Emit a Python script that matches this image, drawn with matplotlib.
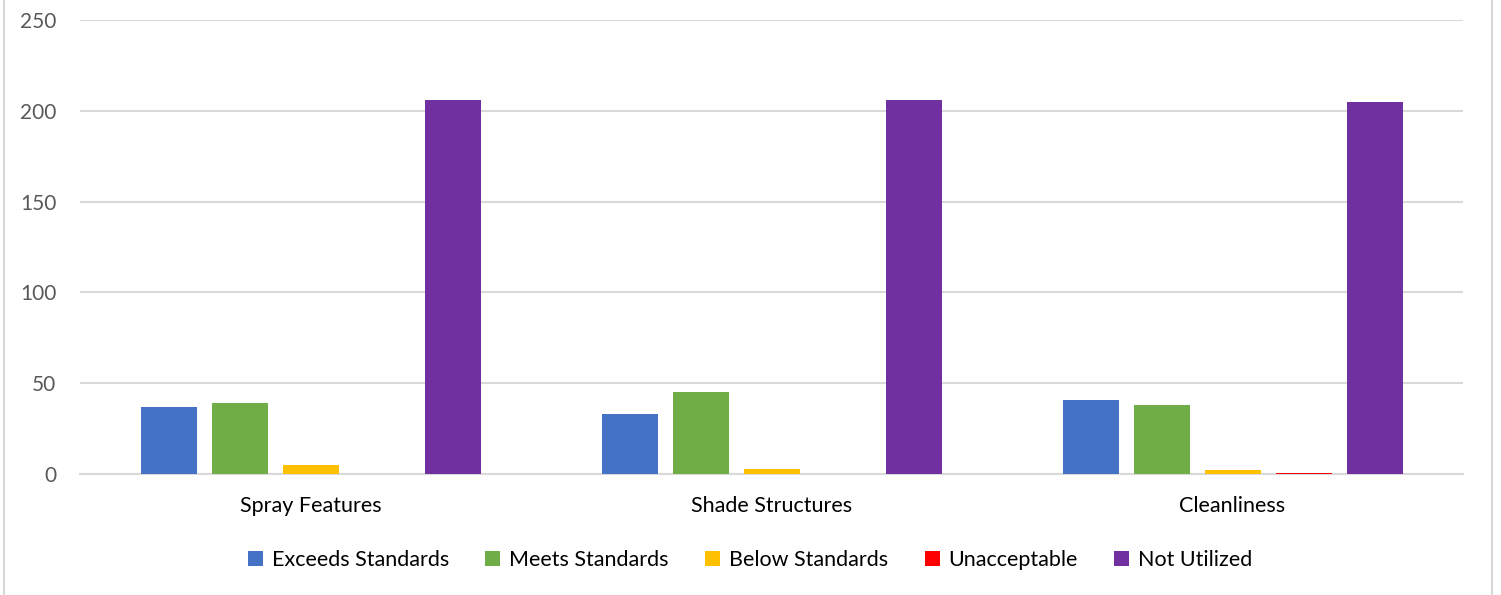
import numpy as np
import matplotlib.pyplot as plt
from matplotlib.patches import Rectangle

# du lieu doc tu hinh
categories = ['Spray Features', 'Shade Structures', 'Cleanliness']
series_names = ['Exceeds Standards', 'Meets Standards', 'Below Standards',
                'Unacceptable', 'Not Utilized']
exceeds = [37, 33, 41]
meets = [39, 45, 38]
below = [5, 3, 2]
unacceptable = [0, 0, 0.6]
not_utilized = [206, 206, 205]
colors = ['#4472C4', '#70AD47', '#FFC000', '#FF0000', '#7030A0']

plt.rcParams['font.family'] = ['Lato', 'DejaVu Sans']

fig = plt.figure(figsize=(15.01, 5.95), dpi=100)
ax = fig.add_axes([80 / 1501, 1 - 474 / 595, (1463 - 80) / 1501, (474 - 20) / 595])

# khung ngoai cua bieu do
fig.patches.append(Rectangle((4 / 1501, -0.05), (1492 - 4) / 1501, 1.1,
                             transform=fig.transFigure, fill=False,
                             edgecolor='#d9d9d9', linewidth=1.5))

x = np.arange(len(categories))
step = 71 / 461
width = 56 / 461
data = [exceeds, meets, below, unacceptable, not_utilized]
for i, vals in enumerate(data):
    ax.bar(x + (i - 2) * step, vals, width, color=colors[i],
           label=series_names[i], zorder=3)

ax.set_xlim(-0.5, 2.5)
ax.set_ylim(0, 250)
ax.set_yticks(range(0, 251, 50))
ax.set_xticks(x)
ax.set_xticklabels(categories, fontsize=15.5, color='black')
ax.tick_params(axis='y', labelsize=15, labelcolor='#595959', length=0, pad=17)
ax.tick_params(axis='x', length=0, pad=16)
ax.grid(axis='y', color='#d9d9d9', linewidth=1.5, zorder=0)
for s in ['top', 'right', 'left']:
    ax.spines[s].set_visible(False)
ax.spines['bottom'].set_color('#d9d9d9')
ax.spines['bottom'].set_linewidth(1.5)

fig.legend(loc='center', bbox_to_anchor=(750 / 1501, 1 - 560 / 595), ncol=5,
           frameon=False, fontsize=15.5, handlelength=0.7, handleheight=0.7,
           handletextpad=0.4, columnspacing=1.7)

plt.savefig('out.png', dpi=100)
